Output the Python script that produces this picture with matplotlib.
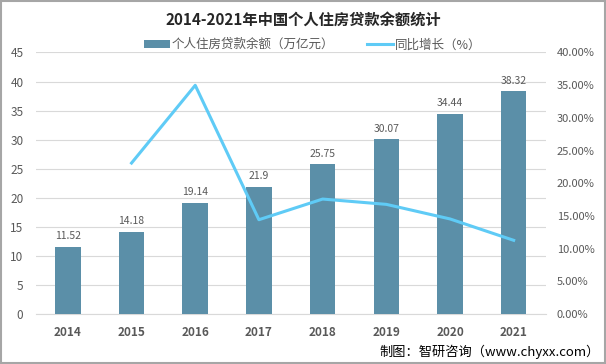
import matplotlib.pyplot as plt
from matplotlib.patches import Rectangle
from matplotlib.ticker import FuncFormatter

plt.rcParams['font.family'] = ['Noto Sans CJK SC', 'DejaVu Sans']

years = ['2014', '2015', '2016', '2017', '2018', '2019', '2020', '2021']
balance = [11.52, 14.18, 19.14, 21.9, 25.75, 30.07, 34.44, 38.32]
growth_years = ['2015', '2016', '2017', '2018', '2019', '2020', '2021']
growth = [23.09, 34.98, 14.42, 17.58, 16.77, 14.54, 11.27]

bar_color = '#5B8FA8'
line_color = '#5FCBF6'
text_color = '#595959'

fig = plt.figure(figsize=(6.06, 3.64), dpi=100)
ax = fig.add_axes([0.0594, 0.1374, 0.8408, 0.7184])
ax2 = ax.twinx()

x = list(range(len(years)))
bars = ax.bar(x, balance, width=0.4, color=bar_color, zorder=3)
for xi, v in zip(x, balance):
    ax.annotate(f'{v:g}', (xi, v), xytext=(0, 4), textcoords='offset points',
                ha='center', va='bottom', fontsize=7.5, color=text_color)

gx = [years.index(y) for y in growth_years]
line, = ax2.plot(gx, growth, color=line_color, lw=2.2, zorder=4)

ax.set_xlim(-0.5, 7.5)
ax.set_ylim(0, 45)
ax.set_yticks(range(0, 46, 5))
ax2.set_ylim(0, 40)
ax2.set_yticks(range(0, 41, 5))
ax2.yaxis.set_major_formatter(FuncFormatter(lambda v, p: f'{v:.2f}%'))

ax.set_xticks(x)
ax.set_xticklabels(years, fontweight='bold', fontsize=8, color='#404040')
ax.grid(axis='y', color='#D9D9D9', lw=0.8, zorder=0)
for a in (ax, ax2):
    for s in a.spines.values():
        s.set_visible(False)
    a.tick_params(length=0, labelsize=8.5, labelcolor=text_color)
ax.spines['bottom'].set_visible(True)
ax.spines['bottom'].set_color('#D9D9D9')
ax.tick_params(axis='x', pad=9)
ax.tick_params(axis='y', pad=9)
ax2.tick_params(axis='y', pad=8, labelsize=8)

fig.text(0.5, 0.945, '2014-2021年中国个人住房贷款余额统计', ha='center', va='center',
         fontsize=11, fontweight='bold', color='#262626')
fig.legend([bars, line], ['个人住房贷款余额（万亿元）', '同比增长（%）'],
           loc='center', bbox_to_anchor=(0.516, 0.877), ncol=2, frameon=False,
           fontsize=9, labelcolor=text_color, handlelength=2.1,
           handleheight=0.6, columnspacing=2.6, handletextpad=0.15)
fig.text(0.99, 0.033, '制图：智研咨询（www.chyxx.com）', ha='right', va='center',
         fontsize=9.5, color='#000000')

fig.patches.append(Rectangle((0.001, 0.002), 0.997, 0.995, transform=fig.transFigure,
                             fill=False, edgecolor='#A6A6A6', lw=1.5))

fig.savefig('out.png', dpi=100)
